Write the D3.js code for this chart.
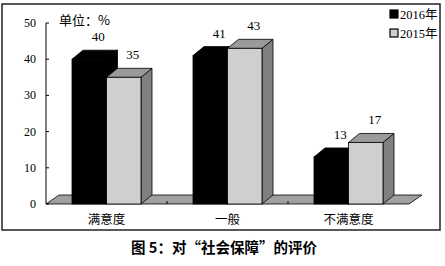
<!DOCTYPE html>
<html>
<head>
<meta charset="utf-8">
<script src="https://cdn.jsdelivr.net/npm/d3@7"></script>
<style>
  body { margin: 0; background: #fff; }
  svg { display: block; }
</style>
</head>
<body>
<div id="container"></div>
<script>
const categories = ["满意度", "一般", "不满意度"]
const seriesNames = ["2016年", "2015年"]
const values2016 = [40, 41, 13]
const values2015 = [35, 43, 17]
const yTicks = [0, 10, 20, 30, 40, 50]

const W = 445, H = 266
const dx = 11, dy = -9      // bar depth
const fdx = 13, fdy = -9    // floor depth

const svg = d3.select("#container").append("svg")
    .attr("width", W)
    .attr("height", H)

// outer frame
svg.append("rect")
    .attr("x", 2).attr("y", 4)
    .attr("width", 438).attr("height", 226)
    .attr("fill", "none")
    .attr("stroke", "#222")
    .attr("stroke-width", 1.5)

const y = d3.scaleLinear().domain([0, 50]).range([204, 23])
const x0 = d3.scaleBand().domain(categories).range([46, 409])
const x1 = d3.scaleBand().domain(seriesNames).range([26, 95])

const colors = {
    "2016年": { front: "#000", top: "#000", side: "#000" },
    "2015年": { front: "#cfcfcf", top: "#9a9a9a", side: "#808080" }
}

// floor
const fx0 = x0.range()[0], fx1 = x0.range()[1], fy = y(0)
svg.append("path")
    .attr("d", `M${fx0},${fy}L${fx1},${fy}L${fx1 + fdx},${fy + fdy}L${fx0 + fdx},${fy + fdy}Z`)
    .attr("fill", "#a0a0a0")
    .attr("stroke", "#000")
    .attr("stroke-width", 0.8)

// category ticks on floor
svg.selectAll(".ctick")
    .data(categories.slice(1))
    .enter()
    .append("line")
    .attr("x1", d => x0(d)).attr("x2", d => x0(d))
    .attr("y1", fy).attr("y2", fy - 3)
    .attr("stroke", "#000")

// y axis
svg.append("line")
    .attr("x1", 46).attr("x2", 46)
    .attr("y1", y(50)).attr("y2", y(0))
    .attr("stroke", "#000")

svg.selectAll(".ytick")
    .data(yTicks)
    .enter()
    .append("line")
    .attr("x1", 46).attr("x2", 49)
    .attr("y1", d => y(d)).attr("y2", d => y(d))
    .attr("stroke", "#000")

svg.selectAll(".ylabel")
    .data(yTicks)
    .enter()
    .append("text")
    .attr("x", 36)
    .attr("y", d => y(d) + 4)
    .attr("text-anchor", "end")
    .style("font-family", "'Liberation Serif', serif")
    .style("font-size", "12px")
    .text(d => d)

// bars
const rows = []
categories.forEach((c, i) => {
    rows.push({ cat: c, s: "2016年", v: values2016[i] })
    rows.push({ cat: c, s: "2015年", v: values2015[i] })
})

rows.forEach(d => {
    const bx = x0(d.cat) + x1(d.s)
    const w = x1.bandwidth()
    const top = y(d.v)
    const base = y(0)
    const col = colors[d.s]
    const g = svg.append("g")
    g.append("path")
        .attr("d", `M${bx + w},${top}L${bx + w + dx},${top + dy}L${bx + w + dx},${base + dy}L${bx + w},${base}Z`)
        .attr("fill", col.side).attr("stroke", "#000").attr("stroke-width", 0.8)
    g.append("path")
        .attr("d", `M${bx},${top}L${bx + dx},${top + dy}L${bx + w + dx},${top + dy}L${bx + w},${top}Z`)
        .attr("fill", col.top).attr("stroke", "#000").attr("stroke-width", 0.8)
    g.append("rect")
        .attr("x", bx).attr("y", top)
        .attr("width", w).attr("height", base - top)
        .attr("fill", col.front).attr("stroke", "#000").attr("stroke-width", 0.8)
    g.append("text")
        .attr("x", bx + w / 2 + 9)
        .attr("y", top + dy - 9)
        .attr("text-anchor", "middle")
        .style("font-family", "'Liberation Serif', serif")
        .style("font-size", "13px")
        .text(d.v)
})

// category labels
svg.selectAll(".clabel")
    .data(categories)
    .enter()
    .append("text")
    .attr("x", d => x0(d) + x0.bandwidth() / 2)
    .attr("y", 224)
    .attr("text-anchor", "middle")
    .style("font-family", "'Noto Sans CJK SC', sans-serif")
    .style("font-size", "12.5px")
    .text(d => d)

// unit
svg.append("text")
    .attr("x", 59).attr("y", 25)
    .style("font-family", "'Noto Sans CJK SC', sans-serif")
    .style("font-size", "13px")
    .text("单位：%")

// legend
const legend = svg.selectAll(".legend")
    .data(seriesNames)
    .enter()
    .append("g")
    .attr("transform", (d, i) => `translate(390, ${14 + i * 19})`)

legend.append("rect")
    .attr("x", 0).attr("y", -4)
    .attr("width", 8).attr("height", 8)
    .attr("fill", d => colors[d].front)
    .attr("stroke", "#000")
    .attr("stroke-width", 1.2)

legend.append("text")
    .attr("x", 10).attr("y", 4.5)
    .style("font-family", "'Liberation Serif', 'Noto Sans CJK SC', serif")
    .style("font-size", "12.5px")
    .text(d => d)

// title
svg.append("text")
    .attr("x", 224).attr("y", 253)
    .attr("text-anchor", "middle")
    .style("font-family", "'Noto Sans CJK SC', sans-serif")
    .style("font-weight", "bold")
    .style("font-size", "14.5px")
    .text("图 5：对“社会保障”的评价")
</script>
</body>
</html>
